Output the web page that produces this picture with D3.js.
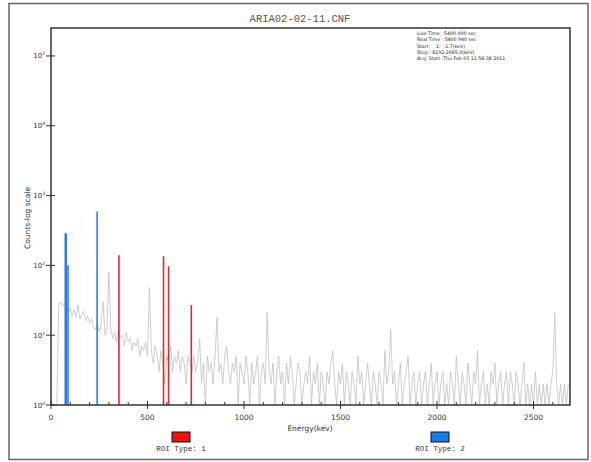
<!DOCTYPE html>
<html>
<head>
<meta charset="utf-8">
<script src="https://cdn.jsdelivr.net/npm/d3@7"></script>
<style>
  body { margin: 0; background: #fff; }
  svg text { fill: #333; }
</style>
</head>
<body>
<div id="chartContainer"></div>
<script>
// spectrum background (grey), every 10 keV
const energies = [30, 40, 50, 60, 70, 80, 90, 100, 110, 120, 130, 140, 150, 160, 170, 180, 190, 200,
  210, 220, 230, 240, 250, 260, 270, 280, 290, 300, 310, 320, 330, 340, 350, 360, 370, 380, 390, 400,
  410, 420, 430, 440, 450, 460, 470, 480, 490, 500, 510, 520, 530, 540, 550, 560, 570, 580, 590, 600,
  610, 620, 630, 640, 650, 660, 670, 680, 690, 700, 710, 720, 730, 740, 750, 760, 770, 780, 790, 800,
  810, 820, 830, 840, 850, 860, 870, 880, 890, 900, 910, 920, 930, 940, 950, 960, 970, 980, 990, 1000,
  1010, 1020, 1030, 1040, 1050, 1060, 1070, 1080, 1090, 1100, 1110, 1120, 1130, 1140, 1150, 1160, 1170, 1180, 1190, 1200,
  1210, 1220, 1230, 1240, 1250, 1260, 1270, 1280, 1290, 1300, 1310, 1320, 1330, 1340, 1350, 1360, 1370, 1380, 1390, 1400,
  1410, 1420, 1430, 1440, 1450, 1460, 1470, 1480, 1490, 1500, 1510, 1520, 1530, 1540, 1550, 1560, 1570, 1580, 1590, 1600,
  1610, 1620, 1630, 1640, 1650, 1660, 1670, 1680, 1690, 1700, 1710, 1720, 1730, 1740, 1750, 1760, 1770, 1780, 1790, 1800,
  1810, 1820, 1830, 1840, 1850, 1860, 1870, 1880, 1890, 1900, 1910, 1920, 1930, 1940, 1950, 1960, 1970, 1980, 1990, 2000,
  2010, 2020, 2030, 2040, 2050, 2060, 2070, 2080, 2090, 2100, 2110, 2120, 2130, 2140, 2150, 2160, 2170, 2180, 2190, 2200,
  2210, 2220, 2230, 2240, 2250, 2260, 2270, 2280, 2290, 2300, 2310, 2320, 2330, 2340, 2350, 2360, 2370, 2380, 2390, 2400,
  2410, 2420, 2430, 2440, 2450, 2460, 2470, 2480, 2490, 2500, 2510, 2520, 2530, 2540, 2550, 2560, 2570, 2580, 2590, 2600,
  2610, 2620, 2630, 2640, 2650, 2660, 2670, 2680];
const counts = [1, 28, 30, 26, 29, 24, 21, 25, 19, 23, 18, 27, 17, 20, 22, 16, 19, 15,
  17, 13, 12, 15, 11, 14, 30, 10, 13, 80, 12, 9, 11, 8, 12, 9, 10, 7, 11, 8,
  9, 6, 8, 7, 9, 5, 7, 6, 8, 5, 48, 6, 4, 7, 5, 3, 6, 4, 2, 5,
  4, 7, 3, 5, 4, 6, 3, 5, 4, 2, 5, 4, 3, 5, 3, 4, 9, 2, 4, 1,
  5, 3, 4, 2, 5, 18, 3, 4, 2, 5, 7, 3, 2, 4, 3, 5, 1, 4, 3, 2,
  5, 3, 1, 4, 2, 3, 5, 1, 3, 4, 2, 21, 3, 2, 4, 1, 3, 5, 2, 3,
  1, 4, 2, 5, 3, 1, 2, 4, 3, 1, 2, 3, 2, 5, 1, 3, 2, 4, 1, 3,
  2, 1, 3, 2, 4, 6, 2, 1, 3, 2, 4, 1, 3, 2, 1, 3, 2, 1, 5, 2,
  3, 1, 2, 4, 2, 1, 3, 2, 1, 3, 2, 1, 6, 2, 3, 12, 2, 3, 1, 2,
  4, 1, 2, 3, 5, 1, 2, 3, 1, 2, 3, 1, 2, 3, 1, 2, 4, 1, 2, 3,
  1, 2, 3, 1, 2, 1, 3, 2, 1, 5, 2, 1, 3, 2, 1, 4, 2, 1, 3, 2,
  6, 1, 2, 3, 1, 2, 1, 3, 2, 4, 1, 2, 3, 1, 2, 3, 1, 3, 2, 1,
  3, 2, 1, 2, 4, 1, 2, 1, 2, 1, 3, 1, 2, 1, 2, 1, 2, 1, 2, 3,
  21, 2, 1, 2, 1, 2, 1, 2];

// ROI peaks
const roiEnergies = [74, 79, 88, 239, 352, 583, 609, 727];
const roiCounts = [290, 285, 100, 590, 140, 135, 97, 27];
const roiTypes = [2, 2, 2, 2, 1, 1, 1, 1];

const xTicks = [0, 500, 1000, 1500, 2000, 2500];
const xMinorTicks = [100, 200, 300, 400, 600, 700, 800, 900, 1100, 1200, 1300, 1400,
  1600, 1700, 1800, 1900, 2100, 2200, 2300, 2400, 2600];
const yExponents = [0, 1, 2, 3, 4, 5];

const infoLines = [
  'Live Time  :5400.000 sec',
  'Real Time  :5400.940 sec',
  'Start:    1:  -1.7(keV)',
  'Stop : 8192:2685.0(keV)',
  'Acq. Start :Thu Feb 03 11:58:38 2011'
];

const roiColors = {1: '#e3262b', 2: '#2b80e2'};
const legendFill = {1: '#ee1111', 2: '#1a7ae8'};

function drawChart() {
  const width = 591;
  const height = 462;
  const left = 51, right = 570, top = 28, bottom = 405;

  const svg = d3.select('#chartContainer')
      .append('svg')
      .attr('width', width)
      .attr('height', height);

  // outer frame
  svg.append('rect')
      .attr('x', 9)
      .attr('y', 3.5)
      .attr('width', 579)
      .attr('height', 456)
      .attr('fill', 'none')
      .attr('stroke', '#666')
      .attr('stroke-width', 1.5);

  const x = d3.scaleLinear().domain([0, 2689]).range([left, right]);
  const y = d3.scaleLog().domain([1, Math.pow(10, 5.4)]).range([bottom, top]);

  svg.append('text')
      .attr('x', 300)
      .attr('y', 22)
      .attr('text-anchor', 'middle')
      .style('font-family', 'Liberation Mono, monospace')
      .style('font-size', '10.5px')
      .style('fill', '#555')
      .text('ARIA02-02-11.CNF');

  // grey spectrum
  const spectrum = energies.map((e, i) => [e, counts[i]]);
  svg.append('path')
      .datum(spectrum)
      .attr('fill', 'none')
      .attr('stroke', '#c2c2c2')
      .attr('stroke-width', 0.8)
      .attr('d', d3.line()
          .x(d => x(d[0]))
          .y(d => y(d[1])));

  // ROI peaks
  roiEnergies.forEach((e, i) => {
    svg.append('line')
        .attr('x1', x(e))
        .attr('x2', x(e))
        .attr('y1', y(1))
        .attr('y2', y(roiCounts[i]))
        .attr('stroke', roiColors[roiTypes[i]])
        .attr('stroke-width', 1.6);
  });

  // plot frame
  svg.append('rect')
      .attr('x', left)
      .attr('y', top)
      .attr('width', right - left)
      .attr('height', bottom - top)
      .attr('fill', 'none')
      .attr('stroke', '#333')
      .attr('stroke-width', 1.5);

  // y ticks
  yExponents.forEach(p => {
    const yy = y(Math.pow(10, p));
    svg.append('line')
        .attr('x1', left - 5)
        .attr('x2', left + 4)
        .attr('y1', yy)
        .attr('y2', yy)
        .attr('stroke', '#333')
        .attr('stroke-width', 1);
    const t = svg.append('text')
        .attr('x', left - 6)
        .attr('y', yy + 2.5)
        .attr('text-anchor', 'end')
        .style('font-family', 'DejaVu Sans, sans-serif')
        .style('font-size', '7px')
        .text('10');
    t.append('tspan')
        .attr('dy', -3)
        .style('font-size', '4.5px')
        .text(p);
  });

  svg.append('text')
      .attr('transform', 'translate(30,218) rotate(-90)')
      .attr('text-anchor', 'middle')
      .style('font-family', 'DejaVu Sans, sans-serif')
      .style('font-size', '7.5px')
      .text('Counts-log scale');

  // x ticks
  xMinorTicks.forEach(v => {
    svg.append('line')
        .attr('x1', x(v))
        .attr('x2', x(v))
        .attr('y1', bottom - 3)
        .attr('y2', bottom)
        .attr('stroke', '#333')
        .attr('stroke-width', 1);
  });
  xTicks.forEach(v => {
    svg.append('line')
        .attr('x1', x(v))
        .attr('x2', x(v))
        .attr('y1', bottom - 4)
        .attr('y2', bottom + 4)
        .attr('stroke', '#333')
        .attr('stroke-width', 1);
    svg.append('text')
        .attr('x', x(v))
        .attr('y', 420)
        .attr('text-anchor', 'middle')
        .style('font-family', 'DejaVu Sans, sans-serif')
        .style('font-size', '7.5px')
        .text(v);
  });

  svg.append('text')
      .attr('x', 310)
      .attr('y', 431)
      .attr('text-anchor', 'middle')
      .style('font-family', 'DejaVu Sans, sans-serif')
      .style('font-size', '7.5px')
      .text('Energy(kev)');

  // acquisition info
  svg.append('g')
      .selectAll('text')
      .data(infoLines)
      .join('text')
      .attr('x', 417)
      .attr('y', (d, i) => 35 + i * 6.3)
      .style('font-family', 'DejaVu Sans, sans-serif')
      .style('font-size', '4.7px')
      .style('white-space', 'pre')
      .style('fill', '#222')
      .text(d => d);

  // legend
  const legendX = {1: 181, 2: 440};
  [1, 2].forEach(k => {
    svg.append('rect')
        .attr('x', legendX[k] - 9)
        .attr('y', 432)
        .attr('width', 18)
        .attr('height', 10)
        .attr('fill', legendFill[k])
        .attr('stroke', '#111')
        .attr('stroke-width', 1);
    svg.append('text')
        .attr('x', legendX[k])
        .attr('y', 451)
        .attr('text-anchor', 'middle')
        .style('font-family', 'Liberation Mono, monospace')
        .style('font-size', '7.5px')
        .text('ROI Type: ' + k);
  });
}

drawChart();
</script>
</body>
</html>
